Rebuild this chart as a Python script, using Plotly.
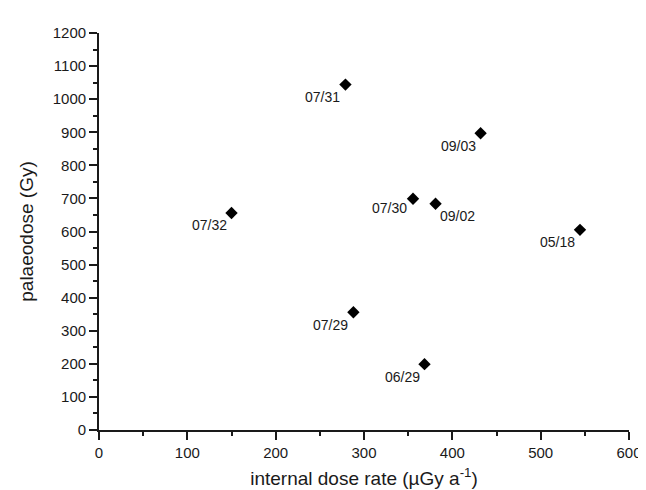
import plotly.graph_objects as go

samples = ["07/31", "09/03", "07/30", "09/02", "07/32", "05/18", "07/29", "06/29"]
dose_rate = [279, 432, 355.5, 381, 150, 544.5, 288, 368.5]
palaeodose = [1044, 897, 699, 684, 656, 605, 356, 199]

# label placement style (anchor side, x shift px, y shift px)
label_style = {
    "07/30": ("right", -4.5, -9),
    "09/02": ("left", 2, -12.5),
}
default_style = ("right", -3, -12.5)

FONT = "Liberation Sans, Arial"
INK = "#1a1a1a"

fig = go.Figure()
fig.add_trace(go.Scatter(
    x=dose_rate, y=palaeodose, mode="markers",
    marker=dict(symbol="diamond", size=9.5, color="black", line=dict(width=0)),
    showlegend=False, cliponaxis=False,
))

for s, xv, yv in zip(samples, dose_rate, palaeodose):
    anchor, dx, dy = label_style.get(s, default_style)
    fig.add_annotation(
        x=xv, y=yv, text=s, showarrow=False,
        xanchor=anchor, yanchor="middle", xshift=dx, yshift=dy,
        font=dict(family=FONT, size=14, color=INK),
    )

axis_common = dict(
    showgrid=False, zeroline=False, showline=True, linecolor=INK, linewidth=1.8,
    ticks="outside", ticklen=8, tickwidth=1.5, tickcolor=INK,
    tickfont=dict(family=FONT, size=15, color=INK),
    minor=dict(ticks="outside", ticklen=4, tickwidth=1.5, tickcolor=INK),
    mirror=False,
)

fig.update_xaxes(range=[0, 600], dtick=100, minor_dtick=50,
                 title=dict(text="internal dose rate (µGy a<sup>-1</sup>)",
                            font=dict(family=FONT, size=19, color=INK),
                            standoff=12),
                 **axis_common)
fig.update_yaxes(range=[0, 1200], dtick=100, minor_dtick=50,
                 title=dict(text="palaeodose (Gy)",
                            font=dict(family=FONT, size=19, color=INK),
                            standoff=14),
                 **axis_common)

fig.update_layout(
    width=646, height=490,
    margin=dict(l=91, r=14, t=25, b=65),
    plot_bgcolor="white", paper_bgcolor="white",
)

fig.write_html("out.html")
